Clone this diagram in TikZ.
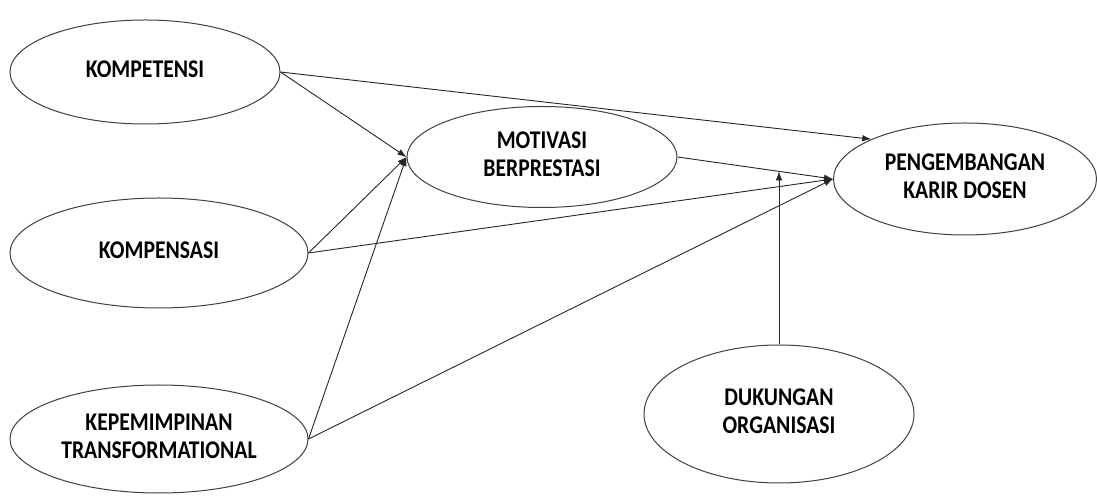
\documentclass[tikz,border=0pt]{standalone}
\usepackage{fontspec}
\setmainfont{Carlito}
\usetikzlibrary{shapes.geometric,arrows.meta,calc}
\newcommand{\lbl}[1]{\scalebox{0.85}[1]{\fontsize{25.5}{28}\selectfont\bfseries\begin{tabular}{@{}c@{}}#1\end{tabular}}}
\tikzset{
  var/.style={ellipse,draw=black!75,line width=1pt,inner sep=0pt,fill=white},
  link/.style={draw=black!85,line width=0.9pt,-{Latex[length=9pt,width=6.5pt]}}
}
\begin{document}
\begin{tikzpicture}[x=1pt,y=1pt]
\useasboundingbox (0,0) rectangle (1097,495);
\node[var,minimum width=270pt,minimum height=104pt] (komp) at (145,423) {\lbl{KOMPETENSI}};
\node[var,minimum width=298pt,minimum height=110pt] (kompen) at (159,242) {\lbl{KOMPENSASI}};
\node[var,minimum width=298pt,minimum height=108pt] (kepem) at (159,56) {\lbl{KEPEMIMPINAN\\TRANSFORMATIONAL}};
\node[var,minimum width=270pt,minimum height=101pt] (moti) at (542,338) {\lbl{MOTIVASI\\BERPRESTASI}};
\node[var,minimum width=263pt,minimum height=112pt] (peng) at (965,316) {\lbl{PENGEMBANGAN\\KARIR DOSEN}};
\node[var,minimum width=270pt,minimum height=138pt] (duk) at (779,81) {\lbl{DUKUNGAN\\ORGANISASI}};
\coordinate (mod) at ($(moti.east)!0.65!(peng.west)$);
\draw[link] (komp.east) -- (peng.157);
\draw[link] (komp.east) -- (moti.west);
\draw[link] (kompen.east) -- (moti.west);
\draw[link] (kompen.east) -- (peng.west);
\draw[link] (kepem.east) -- (moti.west);
\draw[link] (kepem.east) -- (peng.west);
\draw[link] (moti.east) -- (peng.west);
\draw[link] (duk.north) -- (duk.north |- mod);
\end{tikzpicture}
\end{document}
